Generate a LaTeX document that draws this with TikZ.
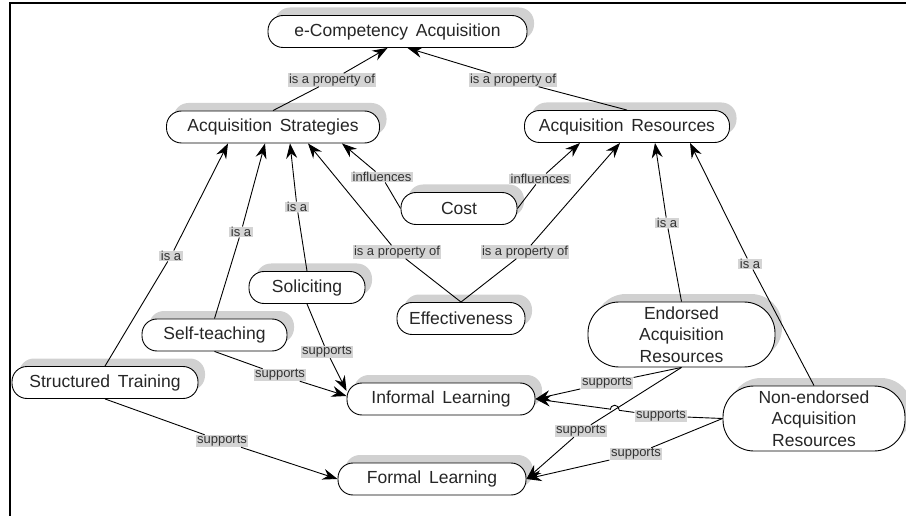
\documentclass[tikz,border=0pt]{standalone}
\usepackage{fontspec}
\setmainfont{Liberation Sans}
\newfontfamily\conceptfont{Liberation Sans}[WordSpace=1.6]
\usetikzlibrary{arrows.meta,shadows,intersections}
\begin{document}
\begin{tikzpicture}[x=1pt,y=-1pt,
  concept/.style={draw=black,line width=0.9pt,fill=white,rounded corners=15pt,
    minimum height=32pt,inner sep=0pt,text=black!85,align=center,
    font=\conceptfont\fontsize{17.5}{21.5}\selectfont,
    drop shadow={shadow xshift=7pt,shadow yshift=8pt,fill=black!18,opacity=1}},
  bigconcept/.style={concept,rounded corners=31pt,minimum height=65pt},
  linkword/.style={fill=black!17,text=black!80,inner xsep=1.5pt,inner ysep=0.5pt,
    font=\fontsize{13}{13}\selectfont},
  link/.style={line width=0.9pt},
  arr/.style={link,-{Stealth[length=15pt,width=11pt,inset=5pt]}}]
\useasboundingbox (0,0) rectangle (906,516);
\draw[line width=2pt] (906,3.5) -- (9.5,3.5) -- (9.5,516);

\node[concept,minimum width=259] (ecomp) at (397.5,31.5) {e-Competency Acquisition};
\node[concept,minimum width=213] (strat) at (273,127) {Acquisition Strategies};
\node[concept,minimum width=205] (res) at (627,126.5) {Acquisition Resources};
\node[concept,minimum width=116] (cost) at (459,208.5) {Cost};
\node[concept,minimum width=116] (solic) at (307,287.5) {Soliciting};
\node[concept,minimum width=128] (effect) at (461,318.5) {Effectiveness};
\node[concept,minimum width=145] (selft) at (214.5,335) {Self-teaching};
\node[bigconcept,minimum width=187] (endorsed) at (681.5,334.5) {Endorsed\\Acquisition\\Resources};
\node[concept,minimum width=186] (struct) at (105,382.5) {Structured Training};
\node[concept,minimum width=188] (informal) at (441,399) {Informal Learning};
\node[bigconcept,minimum width=182] (nonend) at (814,418.5) {Non-endorsed\\Acquisition\\Resources};
\node[concept,minimum width=188] (formal) at (432,479) {Formal Learning};

\node[linkword] (l1) at (332,80) {is a property of};
\node[linkword] (l2) at (513,80) {is a property of};
\node[linkword] (l3) at (382,177) {influences};
\node[linkword] (l4) at (540,179) {influences};
\node[linkword] (l5) at (397,252) {is a property of};
\node[linkword] (l6) at (525,252) {is a property of};
\node[linkword] (l7) at (297,207) {is a};
\node[linkword] (l8) at (241,232) {is a};
\node[linkword] (l9) at (171,256) {is a};
\node[linkword] (l10) at (667,223) {is a};
\node[linkword] (l11) at (750,264) {is a};
\node[linkword] (l12) at (327,352) {supports};
\node[linkword] (l13) at (280,375) {supports};
\node[linkword] (l14) at (222,441) {supports};
\node[linkword] (l15) at (607,383) {supports};
\node[linkword] (l16) at (581,431) {supports};
\node[linkword] (l17) at (661,416) {supports};
\node[linkword] (l18) at (636,454) {supports};

\draw[link] (strat.north) -- (l1);
\draw[arr] (l1) -- ([xshift=-10pt]ecomp.south);
\draw[link] (res.north) -- (l2);
\draw[arr] (l2) -- ([xshift=10pt]ecomp.south);
\draw[link] (cost.west) -- (l3);
\draw[arr] (l3) -- ([xshift=69pt]strat.south);
\draw[link] (cost.east) -- (l4);
\draw[arr] (l4) -- ([xshift=-47pt]res.south);
\draw[link] (effect.north) -- (l5);
\draw[arr] (l5) -- ([xshift=35pt]strat.south);
\draw[link] (effect.north) -- (l6);
\draw[arr] (l6) -- ([xshift=-7pt]res.south);
\draw[link] (solic.north) -- (l7);
\draw[arr] (l7) -- ([xshift=17pt]strat.south);
\draw[link] (selft.north) -- (l8);
\draw[arr] (l8) -- ([xshift=-8pt]strat.south);
\draw[link] (struct.north) -- (l9);
\draw[arr] (l9) -- ([xshift=-45pt]strat.south);
\draw[link] (endorsed.north) -- (l10);
\draw[arr] (l10) -- ([xshift=28pt]res.south);
\draw[link] (nonend.north) -- (l11);
\draw[arr] (l11) -- ([xshift=63pt]res.south);
\draw[link] (solic.south) -- (l12);
\draw[arr] (l12) -- ([yshift=8pt]informal.west);
\draw[link] (selft.south) -- (l13);
\draw[arr] (l13) -- ([yshift=3pt]informal.west);
\draw[link] (struct.south) -- (l14);
\draw[arr] (l14) -- (formal.west);
\draw[link] (endorsed.south) -- (l15);
\draw[arr] (l15) -- (informal.east);
\draw[link,name path=under] (endorsed.south) -- (l16);
\draw[arr] (l16) -- (formal.east);
\draw[link] (nonend.west) -- (l17);
\draw[arr,name path=over] (l17) -- (informal.east);
\draw[link] (nonend.west) -- (l18);
\draw[arr] (l18) -- (formal.east);

\path[name intersections={of=under and over,by=hop}];
\fill[white] (hop) circle (4.5);
\draw[link] ([xshift=-4.5pt]hop) arc[start angle=180,end angle=0,radius=4.5pt];
\begin{scope}
  \clip (hop) circle (5);
  \draw[link] (endorsed.south) -- (l16);
\end{scope}
\end{tikzpicture}
\end{document}
